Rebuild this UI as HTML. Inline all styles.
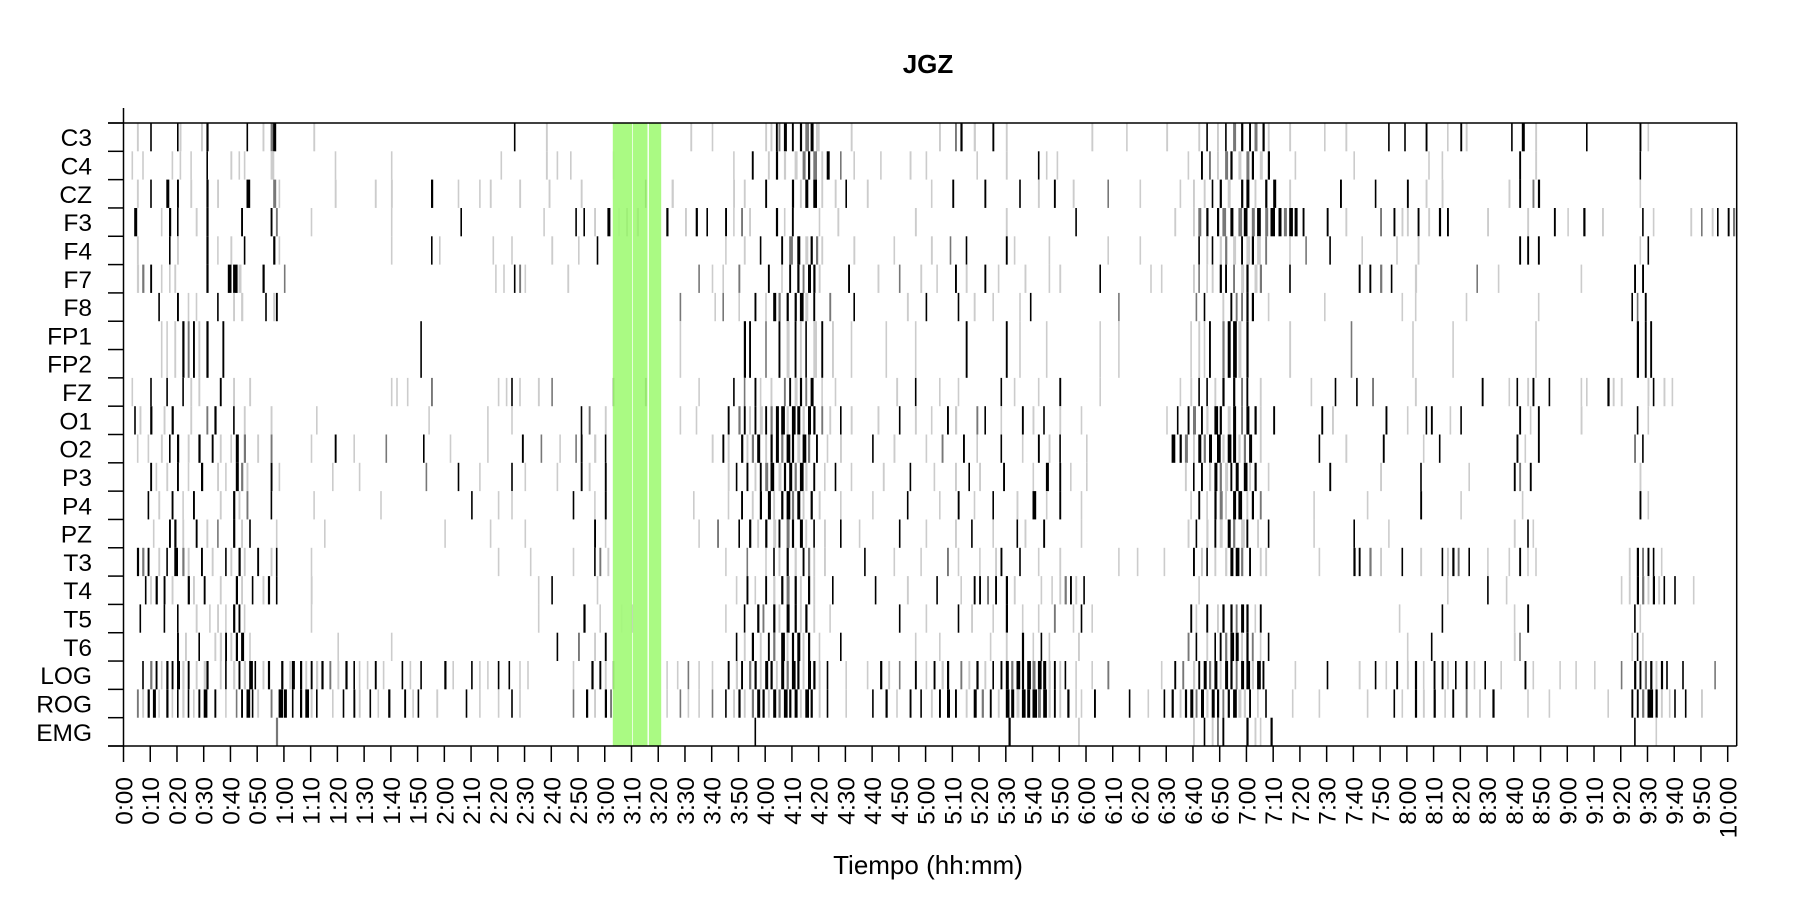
<!DOCTYPE html>
<html><head><meta charset="utf-8"><style>
html,body{margin:0;padding:0;background:#fff;width:1800px;height:900px;overflow:hidden}
svg text{font-family:"Liberation Sans",Arial,sans-serif;fill:#000}
</style></head><body>
<svg id="chart" width="1800" height="900" xmlns="http://www.w3.org/2000/svg">
<text x="928" y="73" font-size="26" font-weight="bold" text-anchor="middle">JGZ</text>
<text x="928" y="874" font-size="26" text-anchor="middle">Tiempo (hh:mm)</text>
<g id="marks"></g><g id="axes"></g>
</svg>
<script>
const channels=["C3","C4","CZ","F3","F4","F7","F8","FP1","FP2","FZ","O1","O2","P3","P4","PZ","T3","T4","T5","T6","LOG","ROG","EMG"];
const shadeColors=["#000000","#777777","#cccccc"];
const highlightSpans=[[183,7.2],[190.5,5.5],[196.5,4.6]];
const tickMinutes=[0,10,20,30,40,50,60,70,80,90,100,110,120,130,140,150,160,170,180,190,200,210,220,230,240,250,260,270,280,290,300,310,320,330,340,350,360,370,380,390,400,410,420,430,440,450,460,470,480,490,500,510,520,530,540,550,560,570,580,590,600];
const tickLabels=["0:00","0:10","0:20","0:30","0:40","0:50","1:00","1:10","1:20","1:30","1:40","1:50","2:00","2:10","2:20","2:30","2:40","2:50","3:00","3:10","3:20","3:30","3:40","3:50","4:00","4:10","4:20","4:30","4:40","4:50","5:00","5:10","5:20","5:30","5:40","5:50","6:00","6:10","6:20","6:30","6:40","6:50","7:00","7:10","7:20","7:30","7:40","7:50","8:00","8:10","8:20","8:30","8:40","8:50","9:00","9:10","9:20","9:30","9:40","9:50","10:00"];
// events: [minute, duration(min), shade 0=black 1=gray 2=light]
const evC3=[[5,.5,2],[10,.4,0],[20,.4,0],[21,.5,2],[29,.5,2],[31,.6,0],[46,.4,0],[52,.5,2],[55,.8,1],[56,.8,0],[71,.5,2],[146,.4,0],[158,.5,2],[212,.5,2],[220,.4,2],[240,.5,2],[242,.5,2],[244,.5,0],[245,.5,1],[247,.8,0],[250,.5,0],[253,.6,0],[255,1,1],[257,.8,0],[259,1,2],[272,.5,2],[305,.5,2],[311,.5,1],[313,.6,0],[318,.6,2],[325,.5,0],[330,.5,2],[362,.5,2],[375,.4,2],[390,.5,2],[402,.5,2],[405,.4,0],[409,.5,2],[412,.4,0],[415,.8,1],[418,.6,0],[421,.5,0],[423,.8,1],[426,.6,0],[428,.5,2],[436,.5,2],[449,.4,2],[457,.5,2],[473,.4,0],[479,.4,0],[487,.5,0],[495,.4,2],[500,.5,0],[502,.5,2],[519,.4,0],[523,.8,0],[528,.5,2],[547,.4,0],[567,.5,0],[570,.4,2]];
const evC4=[[3,.4,2],[7,.4,2],[18,.4,2],[21,.4,2],[25,.4,2],[31,.4,0],[40,.5,2],[43,.4,2],[45,.4,2],[55,1,2],[79,.4,2],[100,.4,2],[141,.4,2],[158,.5,2],[162,.4,2],[167,.4,2],[183,.4,2],[228,.4,2],[235,.5,0],[241,.5,2],[244,.6,0],[247,.6,2],[251,.8,2],[254,.8,1],[256,.6,0],[258,1,1],[261,.5,2],[263,.8,0],[268,.4,1],[273,.4,2],[283,.4,2],[294,.5,2],[300,.4,2],[319,.4,2],[330,.5,2],[342,.4,0],[345,.4,2],[349,.4,2],[398,.4,2],[403,.5,0],[406,.5,1],[409,.5,2],[412,.8,1],[414,.6,0],[417,.8,2],[420,.8,1],[422,.6,0],[425,.8,2],[428,.6,0],[438,.4,2],[460,.4,2],[488,.4,2],[493,.4,2],[522,.5,0],[528,.5,2],[567,.4,0]];
const evCZ=[[5,.5,2],[10,.4,0],[16,.8,0],[20,.5,0],[25,.5,2],[31,.6,0],[35,.5,2],[46,1,0],[56,.8,1],[58,.4,2],[79,.5,2],[94,.5,2],[100,.5,2],[115,.6,0],[125,.4,2],[133,.4,2],[137,.5,2],[148,.5,2],[159,.5,2],[171,.5,2],[195,.4,0],[205,.6,2],[228,.5,2],[232,.5,2],[240,.5,0],[250,.6,0],[253,.5,2],[255,.8,0],[258,1,0],[261,.5,2],[266,.5,2],[270,.4,0],[278,.5,2],[302,.4,2],[310,.5,0],[322,.5,0],[335,.4,0],[342,.5,2],[348,.5,0],[355,.5,2],[368,.4,1],[380,.4,2],[395,.4,2],[400,.5,2],[404,.5,2],[407,.4,0],[410,.6,0],[413,.8,2],[418,.6,0],[420,.8,0],[423,.5,2],[427,.6,0],[430,.8,0],[436,.5,2],[455,.5,0],[468,.4,0],[480,.5,0],[487,.5,2],[493,.5,2],[518,.5,2],[522,.5,0],[527,.5,1],[529,.6,0],[567,.4,2]];
const evF3=[[4,.8,0],[14,.4,2],[17,.6,0],[20,.4,0],[27,.5,2],[31,.6,0],[44,.5,0],[55,.5,0],[57,.5,1],[70,.4,2],[100,.4,2],[126,.4,0],[157,.4,2],[169,.4,0],[172,.4,0],[176,.5,2],[181,.8,0],[185,.5,2],[188,.5,1],[192,.6,1],[203,.6,0],[210,.5,2],[214,.6,0],[218,.4,0],[225,.5,0],[228,.4,2],[231,.5,1],[234,.5,2],[244,.6,0],[247,.4,2],[250,.5,0],[260,.4,2],[267,.5,2],[296,.5,2],[330,.5,2],[356,.4,0],[393,.5,2],[400,.5,2],[402,.8,1],[405,.6,0],[409,.6,0],[411,1,1],[414,.8,0],[417,1,1],[419,1,0],[422,.8,1],[424,1,0],[427,.8,1],[429,1.2,0],[432,.8,0],[434,.8,1],[436,1,0],[438,.8,0],[441,.5,0],[450,.5,0],[457,.5,2],[470,.5,1],[475,.5,0],[478,.5,2],[480,.5,2],[484,.5,0],[488,.5,2],[492,.6,0],[495,.5,0],[510,.5,2],[525,.5,2],[535,.5,0],[540,.4,2],[546,.6,0],[553,.5,2],[568,.4,0],[572,.4,2],[586,.5,2],[590,.4,1],[594,.5,2],[596,.4,0],[600,.5,0],[602,.6,1]];
const evF4=[[5,.5,2],[17,.4,0],[20,.5,2],[31,.6,0],[35,.4,2],[40,.5,2],[45,.4,0],[56,.6,0],[58,.4,2],[100,.4,2],[115,.4,0],[118,.4,2],[138,.4,2],[145,.4,2],[160,.5,2],[170,.4,2],[177,.4,0],[225,.4,2],[232,.5,2],[238,.4,0],[246,.5,0],[249,1,1],[252,.8,0],[255,.8,2],[257,.6,0],[259,.6,1],[261,.5,2],[273,.5,2],[288,.4,2],[302,.5,2],[309,.4,1],[315,.4,0],[330,.5,0],[333,.4,2],[346,.4,2],[368,.4,2],[380,.4,2],[402,.4,0],[405,.5,2],[407,.4,0],[410,.6,2],[412,.6,1],[415,.8,2],[418,.5,0],[420,1,2],[422,.6,0],[424,1,2],[427,.5,1],[436,.4,2],[442,.4,1],[451,.4,0],[463,.4,2],[476,.4,2],[484,.5,2],[522,.5,0],[525,.5,0],[529,.5,0],[567,.4,2],[570,.4,0]];
const evF7=[[5,.6,2],[7,.6,1],[10,.5,0],[14,.4,2],[17,.4,2],[19,.5,2],[31,.6,0],[39,1,0],[41,1.2,0],[43,.8,2],[52,.6,0],[60,.4,1],[139,.4,2],[142,.4,2],[146,.4,0],[148,.5,1],[150,.4,2],[166,.5,2],[215,.4,1],[220,.4,2],[224,.4,2],[230,.5,1],[241,.5,0],[246,.4,2],[249,.5,0],[252,.6,0],[254,.5,1],[256,.8,0],[258,.6,0],[260,.5,2],[271,.5,0],[282,.5,2],[290,.4,1],[298,.5,2],[304,.4,2],[311,.5,0],[315,.5,2],[322,.5,0],[327,.4,2],[337,.5,2],[346,.4,2],[350,.5,2],[365,.4,0],[384,.4,2],[388,.4,2],[400,.5,2],[402,.4,1],[405,.4,2],[407,.5,2],[410,.6,0],[412,.5,0],[415,.5,1],[418,.8,2],[420,.6,0],[423,.8,2],[425,.6,1],[436,.4,0],[462,.5,0],[466,.5,0],[470,.6,1],[474,.4,0],[483,.6,2],[506,.4,1],[514,.4,2],[545,.4,2],[565,.5,0],[568,.5,0]];
const evF8=[[13,.4,0],[20,.5,0],[24,.4,2],[27,.4,2],[35,.4,0],[41,.5,2],[44,.6,2],[53,.4,0],[56,.5,2],[57,.5,0],[208,.4,1],[221,.4,2],[224,.4,1],[230,.4,2],[236,.5,0],[240,.4,2],[243,.8,0],[245,.6,1],[248,.6,0],[251,.6,0],[253,1,0],[255,.8,2],[258,.5,0],[264,.5,1],[273,.4,0],[293,.5,2],[300,.4,0],[312,.4,0],[318,.5,2],[325,.4,2],[335,.4,2],[339,.4,0],[372,.4,1],[401,.4,1],[404,.4,0],[411,.5,2],[414,.5,0],[416,.5,1],[418,.5,1],[420,.6,0],[422,.6,0],[428,.4,2],[449,.4,2],[478,.4,2],[483,.4,2],[502,.4,2],[529,.4,2],[564,.4,0],[566,.4,1],[569,.5,0]];
const evFP1=[[14,.4,2],[16,.4,2],[19,.5,2],[22,.6,0],[24,.5,1],[26,.5,0],[28,.5,2],[31,.6,0],[37,.5,0],[111,.4,0],[208,.4,2],[232,.6,0],[234,.5,0],[240,.4,1],[245,.5,0],[248,.8,2],[251,.5,0],[253,.5,2],[255,.4,0],[258,1,2],[261,.5,0],[265,.5,2],[272,.4,2],[285,.4,2],[296,.4,2],[315,.5,0],[330,.5,0],[335,.4,2],[345,.4,2],[365,.4,2],[372,.4,2],[399,.4,2],[402,.5,2],[404,.4,2],[406,.5,0],[411,.6,1],[413,.8,0],[415,1,0],[417,.8,2],[420,.6,0],[436,.5,2],[459,.4,1],[482,.4,2],[497,.4,2],[528,.4,2],[566,.6,0],[569,.5,0],[571,.5,0]];
const evFZ=[[3,.4,2],[10,.4,0],[16,.4,0],[22,.4,0],[25,.5,2],[28,.5,2],[36,.5,0],[41,.5,2],[47,.5,2],[100,.4,2],[102,.4,2],[106,.4,2],[115,.5,1],[140,.4,2],[143,.4,2],[145,.4,0],[148,.4,2],[155,.5,2],[160,.4,1],[183,.4,0],[195,.5,0],[215,.4,2],[228,.4,0],[232,.4,1],[236,.5,0],[238,.4,2],[242,.5,2],[247,.5,1],[249,.5,0],[251,.8,2],[253,.6,0],[255,.5,1],[257,.8,0],[261,.4,2],[266,.4,2],[289,.5,2],[296,.4,0],[305,.4,2],[312,.4,2],[328,.4,0],[333,.4,2],[342,.4,2],[350,.5,0],[365,.4,2],[395,.4,2],[399,.5,2],[402,.4,0],[405,.4,0],[408,.5,2],[411,.6,0],[415,.6,0],[418,.5,1],[420,.5,0],[425,.5,2],[444,.4,2],[453,.4,0],[461,.4,0],[467,.5,1],[483,.5,2],[508,.5,0],[518,.4,2],[521,.4,0],[525,.5,2],[527,.5,0],[533,.4,0],[545,.4,2],[547,.4,2],[555,.6,0],[557,.5,2],[560,.5,2],[570,.5,2],[572,.4,0],[576,.5,2],[579,.4,2]];
const evO1=[[4,.4,0],[6,.5,2],[10,.6,0],[15,.5,2],[18,.6,0],[25,.5,2],[31,.5,1],[34,.6,0],[41,.4,0],[45,.5,2],[55,.5,2],[72,.4,2],[114,.4,2],[136,.4,2],[145,.4,2],[171,.4,0],[174,.5,1],[180,.5,2],[208,.4,2],[214,.4,2],[226,.5,0],[230,.6,1],[232,.5,0],[234,.5,2],[236,.5,0],[238,.8,2],[240,.5,0],[242,.6,1],[244,.8,0],[246,1,0],[248,.6,2],[250,1,0],[252,.8,0],[254,.6,2],[256,.8,0],[258,.6,0],[261,.5,1],[264,.5,2],[268,.4,0],[272,.5,2],[282,.5,2],[290,.4,0],[296,.5,2],[302,.4,2],[308,.5,0],[311,.6,2],[319,.5,1],[322,.4,0],[328,.4,2],[336,.5,0],[340,.5,2],[344,.4,0],[350,.5,2],[358,.4,2],[390,.4,2],[394,.4,0],[398,.5,0],[400,.8,1],[403,.5,0],[405,.6,2],[408,1,0],[410,.6,0],[413,.8,2],[415,.8,0],[418,.5,1],[420,.8,0],[423,.6,0],[425,.5,2],[430,.5,0],[448,.5,0],[452,.5,2],[472,.5,0],[480,.4,2],[487,.4,0],[489,.5,0],[496,.4,2],[500,.4,0],[522,.5,0],[526,.4,2],[529,.5,0],[545,.5,2],[566,.4,0],[570,.4,2]];
const evO2=[[5,.4,2],[9,.4,2],[14,.5,2],[17,.4,0],[20,.6,0],[24,.5,2],[28,.6,0],[33,.5,0],[36,.5,2],[40,.4,2],[42,.8,0],[45,.6,1],[50,.5,2],[55,.5,1],[70,.4,2],[79,.5,0],[86,.4,2],[98,.4,1],[112,.4,0],[122,.4,2],[136,.4,2],[149,.5,0],[156,.4,1],[163,.4,2],[169,.4,1],[171,.5,0],[176,.6,2],[180,.4,0],[220,.5,2],[224,.5,0],[226,.5,2],[231,.6,0],[233,.5,2],[235,.6,1],[237,.8,0],[240,.5,2],[242,.6,0],[244,.8,0],[246,.6,1],[248,1,0],[250,.6,0],[252,.8,2],[254,1,0],[256,.6,1],[259,.5,0],[263,.4,2],[268,.5,2],[280,.4,0],[288,.5,2],[300,.4,2],[306,.5,1],[314,.5,0],[319,.4,2],[328,.4,0],[336,.4,2],[342,.5,0],[346,.5,2],[350,.4,0],[360,.4,2],[392,1,0],[395,.6,0],[397,.8,1],[400,.5,2],[402,.8,0],[404,.6,1],[406,.8,0],[409,1,0],[411,.6,2],[413,1,0],[415,.8,0],[417,.6,2],[419,.6,1],[421,.8,0],[425,.5,2],[447,.4,0],[457,.5,2],[471,.5,0],[486,.4,2],[492,.4,0],[521,.5,0],[524,.4,2],[529,.5,0],[565,.5,1],[568,.4,0]];
const evP3=[[10,.5,0],[12,.4,2],[16,.5,2],[20,.5,0],[24,.4,2],[29,.6,0],[35,.5,2],[38,.4,2],[42,.8,0],[44,.6,1],[46,.5,2],[55,.5,0],[58,.4,2],[78,.4,2],[88,.4,2],[113,.4,1],[125,.4,0],[133,.4,2],[145,.4,0],[150,.4,2],[162,.4,2],[171,.5,0],[174,.5,2],[180,.5,0],[226,.5,2],[229,.4,0],[233,.5,0],[236,.5,2],[238,.5,0],[240,.8,1],[242,1,0],[245,.8,2],[247,.6,0],[249,.8,0],[251,.6,1],[253,1,0],[255,.6,2],[258,.5,0],[262,.4,2],[266,.4,0],[272,.4,2],[284,.5,2],[294,.4,0],[303,.4,2],[311,.5,2],[316,.4,0],[320,.5,2],[329,.5,0],[340,.4,2],[345,.8,0],[350,.5,0],[354,.4,2],[360,.4,2],[397,.5,2],[400,.4,0],[403,.5,0],[406,.6,2],[408,.8,0],[410,.6,1],[412,.8,2],[414,.5,0],[416,.8,0],[419,1,0],[421,.5,2],[423,.6,0],[428,.4,2],[451,.5,0],[470,.5,2],[485,.4,0],[503,.4,2],[520,.5,0],[522,.5,1],[526,.5,0],[567,.5,2]];
const evP4=[[9,.4,0],[13,.5,2],[18,.5,0],[22,.4,2],[26,.5,0],[36,.5,2],[41,.6,0],[43,.5,2],[46,.5,1],[55,.4,0],[71,.4,2],[96,.4,2],[130,.4,0],[140,.4,2],[145,.4,2],[168,.4,0],[176,.4,2],[180,.5,0],[213,.4,2],[226,.4,2],[231,.5,0],[235,.5,2],[238,.6,0],[241,.8,0],[243,.5,2],[246,.6,0],[248,1,0],[250,.6,1],[252,.8,0],[254,.5,2],[257,.6,0],[260,.5,2],[268,.4,2],[280,.4,2],[293,.4,0],[305,.4,2],[312,.5,0],[318,.4,2],[325,.4,0],[334,.5,2],[340,1,0],[345,.4,2],[350,.5,0],[358,.4,2],[399,.4,2],[402,.5,0],[405,.4,2],[408,.6,0],[410,.8,1],[412,.5,2],[415,.8,0],[417,1,0],[420,.5,2],[422,.6,0],[425,.5,1],[445,.4,2],[465,.4,2],[485,.5,0],[500,.4,2],[523,.4,2],[567,.5,0],[570,.4,2]];
const evPZ=[[11,.4,2],[17,.5,0],[19,.6,0],[22,.5,2],[27,.5,0],[31,.5,2],[35,.4,1],[41,.6,0],[44,.5,2],[47,.4,0],[57,.4,2],[75,.4,2],[120,.4,2],[137,.4,2],[150,.4,2],[176,.5,0],[180,.4,2],[215,.4,2],[222,.5,1],[230,.4,0],[234,.6,0],[237,.5,2],[240,.6,0],[243,.8,2],[245,.5,0],[248,.8,1],[250,.6,0],[253,.8,0],[255,.5,2],[258,.4,0],[262,.5,2],[268,.4,0],[275,.4,2],[290,.4,0],[300,.4,2],[311,.5,2],[317,.4,0],[325,.4,2],[334,.4,0],[337,.5,2],[344,.5,0],[358,.4,2],[398,.5,2],[401,.4,0],[405,.6,2],[408,.5,0],[410,.8,2],[413,.8,0],[415,.6,1],[418,1,2],[420,.5,0],[424,.5,2],[428,.4,0],[445,.4,2],[460,.4,0],[473,.4,2],[520,.5,2],[525,.4,0],[527,.4,2]];
const evT3=[[5,.6,0],[7,.6,1],[9,.5,0],[13,.5,2],[16,.4,0],[19,1,0],[22,.6,1],[24,.5,2],[29,.5,0],[33,.5,2],[38,.4,0],[40,.5,2],[43,.6,0],[45,.5,2],[50,.5,0],[55,.5,2],[57,.4,0],[70,.4,2],[140,.4,2],[152,.4,2],[168,.4,2],[176,.4,0],[178,.5,1],[181,.5,2],[225,.4,2],[233,.4,1],[240,.4,2],[243,.4,0],[245,.5,2],[248,.6,0],[251,.6,2],[254,.5,0],[256,.6,1],[258,.5,2],[262,.5,2],[277,.4,0],[288,.4,2],[298,.4,2],[308,.5,1],[312,.4,2],[320,.4,2],[326,.5,2],[328,.5,0],[335,.4,0],[342,.4,2],[350,.5,2],[372,.4,2],[379,.4,2],[389,.4,2],[400,.5,0],[403,.5,2],[405,.4,0],[408,.5,2],[412,.6,2],[414,.8,0],[416,1,0],[418,.6,1],[421,.5,0],[425,.5,2],[427,.5,2],[447,.4,2],[460,.6,0],[462,.5,0],[466,.6,1],[470,.5,2],[478,.4,0],[485,.5,2],[493,.4,0],[495,.5,2],[497,.6,0],[499,.5,1],[503,.4,0],[510,.4,2],[518,.4,2],[522,.5,0],[525,.4,2],[528,.4,2],[563,.5,2],[566,.6,0],[568,.5,1],[570,.5,0],[572,.4,0],[575,.4,2]];
const evT4=[[8,.4,0],[10,.4,2],[12,.6,0],[15,.5,0],[18,.5,2],[24,.6,0],[26,.5,2],[30,.5,0],[36,.5,2],[42,.6,0],[44,.5,2],[48,.4,0],[52,.5,2],[54,.6,0],[57,.4,0],[70,.5,2],[155,.4,2],[160,.4,0],[177,.4,2],[229,.4,2],[233,.5,0],[236,.4,2],[240,.5,0],[243,.6,2],[246,.6,0],[248,.8,1],[251,.6,0],[253,.5,2],[256,.6,0],[258,.5,2],[265,.4,0],[281,.4,0],[293,.5,2],[304,.4,0],[313,.4,2],[318,.5,0],[320,.5,0],[323,.5,1],[326,.5,0],[330,.6,0],[333,.5,2],[343,.4,2],[347,.4,2],[350,.5,2],[352,.6,1],[354,.5,0],[356,.5,2],[359,.4,0],[402,.4,2],[495,.4,2],[510,.4,0],[517,.4,2],[560,.4,2],[563,.5,2],[566,.6,0],[568,.6,1],[570,.5,2],[572,.6,0],[574,.5,2],[576,.4,0],[580,.4,0],[587,.4,2]];
const evT5=[[6,.4,0],[15,.4,0],[20,.4,0],[27,.5,2],[32,.4,2],[35,.5,2],[38,.4,2],[41,.6,0],[43,.5,0],[45,.4,2],[70,.4,2],[155,.4,2],[172,.6,0],[178,.4,2],[186,.4,2],[190,.4,2],[225,.4,2],[232,.4,0],[237,.6,0],[239,.5,1],[243,.6,0],[245,.5,2],[248,.8,0],[251,.6,0],[253,.5,2],[255,.6,0],[258,.5,2],[264,.4,2],[290,.4,0],[300,.4,2],[312,.4,0],[317,.5,2],[325,.4,2],[330,.6,0],[336,.4,2],[342,.4,2],[348,.5,1],[355,.4,2],[358,.4,0],[362,.4,2],[399,.5,0],[401,.4,2],[405,.5,0],[409,.5,2],[411,.6,0],[414,.6,0],[416,.5,1],[418,.8,0],[420,.6,0],[423,.4,2],[425,.5,0],[477,.4,2],[493,.4,0],[520,.4,2],[525,.5,0],[565,.4,0],[567,.4,2]];
const evT6=[[20,.5,0],[23,.5,2],[28,.4,0],[34,.5,2],[36,.6,2],[38,.5,0],[40,.5,2],[42,.6,0],[44,.8,0],[47,.4,2],[80,.4,2],[100,.4,2],[162,.4,0],[170,.5,1],[176,.5,2],[180,.5,0],[229,.4,0],[232,.5,2],[235,.6,0],[238,.5,2],[241,.5,0],[243,.6,1],[246,1,0],[248,.5,2],[250,.6,0],[252,.8,0],[254,.5,2],[256,.6,0],[260,.4,2],[268,.4,0],[296,.4,2],[305,.4,2],[324,.4,2],[330,.5,2],[336,.6,0],[340,.4,2],[343,.4,0],[346,.4,2],[357,.5,2],[398,.5,1],[401,.4,0],[405,.5,2],[408,.4,0],[410,.5,0],[412,.6,1],[414,1,0],[416,.8,0],[418,.5,2],[420,.6,0],[422,.5,1],[425,.4,2],[428,.4,0],[480,.4,2],[489,.4,0],[520,.5,2],[522,.4,1],[564,.4,2],[566,.4,0],[568,.4,2]];
const evLOG=[[7,.4,0],[10,.6,1],[12,.5,0],[14,.4,2],[16,.6,0],[18,.5,0],[20,.8,0],[22,.6,2],[24,.5,0],[27,.5,2],[30,.6,2],[31,.6,0],[36,.5,2],[38,.4,0],[41,.6,2],[43,.5,0],[45,.6,2],[47,1,0],[49,.4,0],[52,.5,2],[54,.6,0],[59,.6,0],[62,.6,2],[63,.8,0],[66,.6,0],[68,.5,2],[70,.5,0],[72,.6,2],[74,.6,0],[77,.5,1],[80,.5,2],[83,.6,0],[86,.4,0],[88,.4,2],[91,.4,2],[94,.5,0],[97,.4,2],[104,.4,0],[107,.4,2],[111,.4,0],[120,.6,0],[123,.4,2],[130,.4,0],[133,.4,2],[136,.4,2],[140,.4,0],[144,.4,0],[148,.4,2],[151,.4,2],[168,.4,2],[175,.6,0],[178,.5,0],[180,.5,2],[183,.4,0],[203,.4,2],[207,.4,2],[211,.4,1],[215,.4,2],[220,.4,2],[226,.5,0],[229,.6,2],[231,.5,0],[234,.6,1],[236,.6,0],[238,.5,2],[240,.8,0],[242,.6,0],[244,.5,2],[246,.8,0],[248,.6,1],[250,1,0],[252,.6,0],[254,.5,2],[256,.8,0],[258,.6,0],[260,.5,2],[263,.4,0],[270,.4,2],[278,.4,2],[283,.6,0],[286,.5,2],[290,.4,1],[296,.5,0],[300,.4,2],[303,.5,0],[306,.6,2],[308,.6,0],[313,.5,1],[316,.5,2],[319,.6,0],[322,.5,2],[325,.4,0],[328,.5,0],[330,.8,0],[332,.6,1],[334,1,0],[336,.6,0],[338,1,0],[340,.8,1],[342,1,0],[344,.8,0],[346,.6,2],[348,.5,0],[350,.5,2],[352,.4,0],[356,.4,2],[362,.4,2],[368,.5,1],[388,.4,2],[393,.5,0],[396,.5,1],[400,.6,2],[402,.5,0],[404,.8,0],[406,.6,1],[408,.8,0],[410,.5,2],[412,.8,0],[414,.6,0],[416,.5,1],[418,.8,0],[420,1,0],[422,.6,2],[424,1,0],[426,.5,0],[438,.4,2],[450,.4,0],[462,.5,2],[468,.4,0],[472,.4,2],[476,.5,0],[480,.5,2],[483,.6,0],[486,.4,2],[490,.5,0],[493,.5,0],[495,.5,2],[498,.4,0],[502,.5,0],[505,.4,2],[509,.4,0],[515,.4,2],[524,.5,0],[527,.4,2],[537,.4,2],[543,.4,2],[550,.4,2],[560,.4,1],[565,.6,0],[567,.5,0],[569,.6,1],[571,.6,0],[573,.5,2],[575,.6,0],[577,.4,0],[583,.4,0],[595,.4,1]];
const evROG=[[5,.5,1],[7,.5,2],[9,.6,0],[11,.8,0],[13,.4,2],[16,.6,0],[18,.4,2],[20,.4,0],[22,.6,2],[24,.4,0],[26,.4,2],[28,.5,0],[30,1,0],[34,.5,0],[38,.4,2],[42,.4,1],[44,.5,0],[46,1,0],[48,.4,0],[50,.5,2],[55,.5,1],[58,1.2,0],[60,.8,0],[63,.4,0],[66,.6,0],[68,1,0],[70,.5,2],[72,.4,0],[78,.4,2],[82,.4,0],[86,.5,0],[88,.5,2],[92,.4,0],[95,.4,2],[99,.6,0],[105,.5,0],[108,.4,2],[110,.4,0],[117,.5,2],[128,.4,0],[133,.4,2],[140,.4,2],[145,.4,0],[148,.4,2],[168,.4,1],[173,.6,0],[176,.5,2],[180,.6,0],[182,.5,1],[203,.4,2],[208,.4,1],[211,.4,2],[215,.4,2],[220,.4,1],[225,.4,0],[228,.5,2],[230,.6,0],[232,.5,2],[235,.6,1],[237,.8,0],[239,.6,0],[241,.5,2],[243,.8,0],[245,.6,1],[247,1,0],[249,.6,0],[251,.8,0],[253,.5,2],[255,1,0],[257,.6,0],[260,.5,2],[263,.4,0],[270,.4,2],[280,.4,0],[285,.6,0],[289,.4,2],[294,.5,0],[298,.4,0],[302,.5,2],[305,.5,0],[308,.8,0],[311,.5,0],[315,.5,2],[318,.8,0],[321,.6,1],[324,.5,0],[327,.5,2],[330,1,0],[332,.8,0],[334,.8,2],[336,1,0],[338,.8,0],[340,1.2,0],[342,.8,1],[344,1,0],[346,.6,2],[348,.5,0],[350,.5,2],[353,.6,0],[356,.4,2],[358,.4,2],[363,.5,0],[376,.4,0],[383,.4,2],[389,.4,0],[392,.6,0],[395,.5,2],[397,.6,0],[399,.8,0],[401,.5,1],[403,.8,0],[405,.6,2],[407,.8,0],[409,.6,0],[411,.5,1],[413,.6,0],[415,1,0],[417,.8,2],[419,.6,2],[421,.5,0],[424,.4,2],[427,.4,0],[437,.4,2],[447,.4,2],[465,.4,2],[475,.4,0],[478,.4,2],[483,.6,0],[486,.5,2],[490,.6,0],[494,.4,2],[497,.5,0],[502,.5,1],[507,.5,2],[512,.6,0],[525,.4,2],[533,.4,2],[555,.4,2],[564,.5,0],[566,.5,0],[568,.6,1],[570,1.5,0],[573,.6,0],[575,.5,2],[578,.4,2],[580,.4,0],[584,.4,0],[590,.5,2]];
const evEMG=[[57,.6,1],[236,.4,0],[331,.6,0],[357,.5,2],[400,.5,2],[404,.4,0],[407,.5,2],[409,.5,1],[411,.5,0],[420,.6,0],[423,.5,2],[425,.4,2],[429,.6,0],[565,.4,0],[573,.4,2]];
const events=[evC3,evC4,evCZ,evF3,evF4,evF7,evF8,evFP1,evFP1,evFZ,evO1,evO2,evP3,evP4,evPZ,evT3,evT4,evT5,evT6,evLOG,evROG,evEMG];

const NS="http://www.w3.org/2000/svg";
const X0=123.5,X1=1736.7,Y0=123,Y1=746;
const pxPerMin=(1727.7-123.5)/600;
const rowH=(Y1-Y0)/channels.length;
function xScale(m){return X0+m*pxPerMin;}
function yRow(i){return Y0+i*rowH;}
const marks=document.getElementById('marks'),axes=document.getElementById('axes');
function mk(tag,attrs,parent){const e=document.createElementNS(NS,tag);for(const k in attrs)e.setAttribute(k,attrs[k]);parent.appendChild(e);return e;}

events.forEach((evs,ci)=>{
  const g=mk('g',{},marks);
  
  
  evs.forEach(ev=>{
    const x=xScale(ev[0]),w=Math.max(1.6,ev[1]*pxPerMin*1.4);
    const r=mk('rect',{x:x.toFixed(1),y:yRow(ci).toFixed(1),width:w.toFixed(1),height:rowH.toFixed(2),fill:shadeColors[ev[2]]},g);
    
    
  });
});
highlightSpans.forEach(s=>{
  const r=mk('rect',{x:xScale(s[0]).toFixed(1),y:Y0,width:(s[1]*pxPerMin).toFixed(1),height:Y1-Y0,fill:'#a3fa78','fill-opacity':'0.92'},marks);
  
  
});
const fr=mk('path',{d:`M${X0} 108V${Y1}M108 ${Y0}H${X1}V${Y1}M108 ${Y1}H${X1}`,stroke:'#000','stroke-width':1.5,fill:'none'},axes);


for(let i=0;i<=channels.length;i++){
  const t=mk('line',{x1:108,x2:X0,y1:yRow(i),y2:yRow(i),stroke:'#000','stroke-width':1.5},axes);
  
  
}
channels.forEach((c,i)=>{
  const t=mk('text',{x:92,y:(yRow(i)+rowH/2+9).toFixed(1),'font-size':24.5,'text-anchor':'end'},axes);
  t.textContent=c;
  
  
});
tickMinutes.forEach((m,i)=>{
  const x=xScale(m);
  const t=mk('line',{x1:x,x2:x,y1:Y1,y2:762,stroke:'#000','stroke-width':1.5},axes);
  
  
  const l=mk('text',{x:0,y:0,'font-size':24.5,'text-anchor':'end',transform:`translate(${(x+9).toFixed(1)},777) rotate(-90)`},axes);
  l.textContent=tickLabels[i];
  
  
});
</script>
</body></html>
